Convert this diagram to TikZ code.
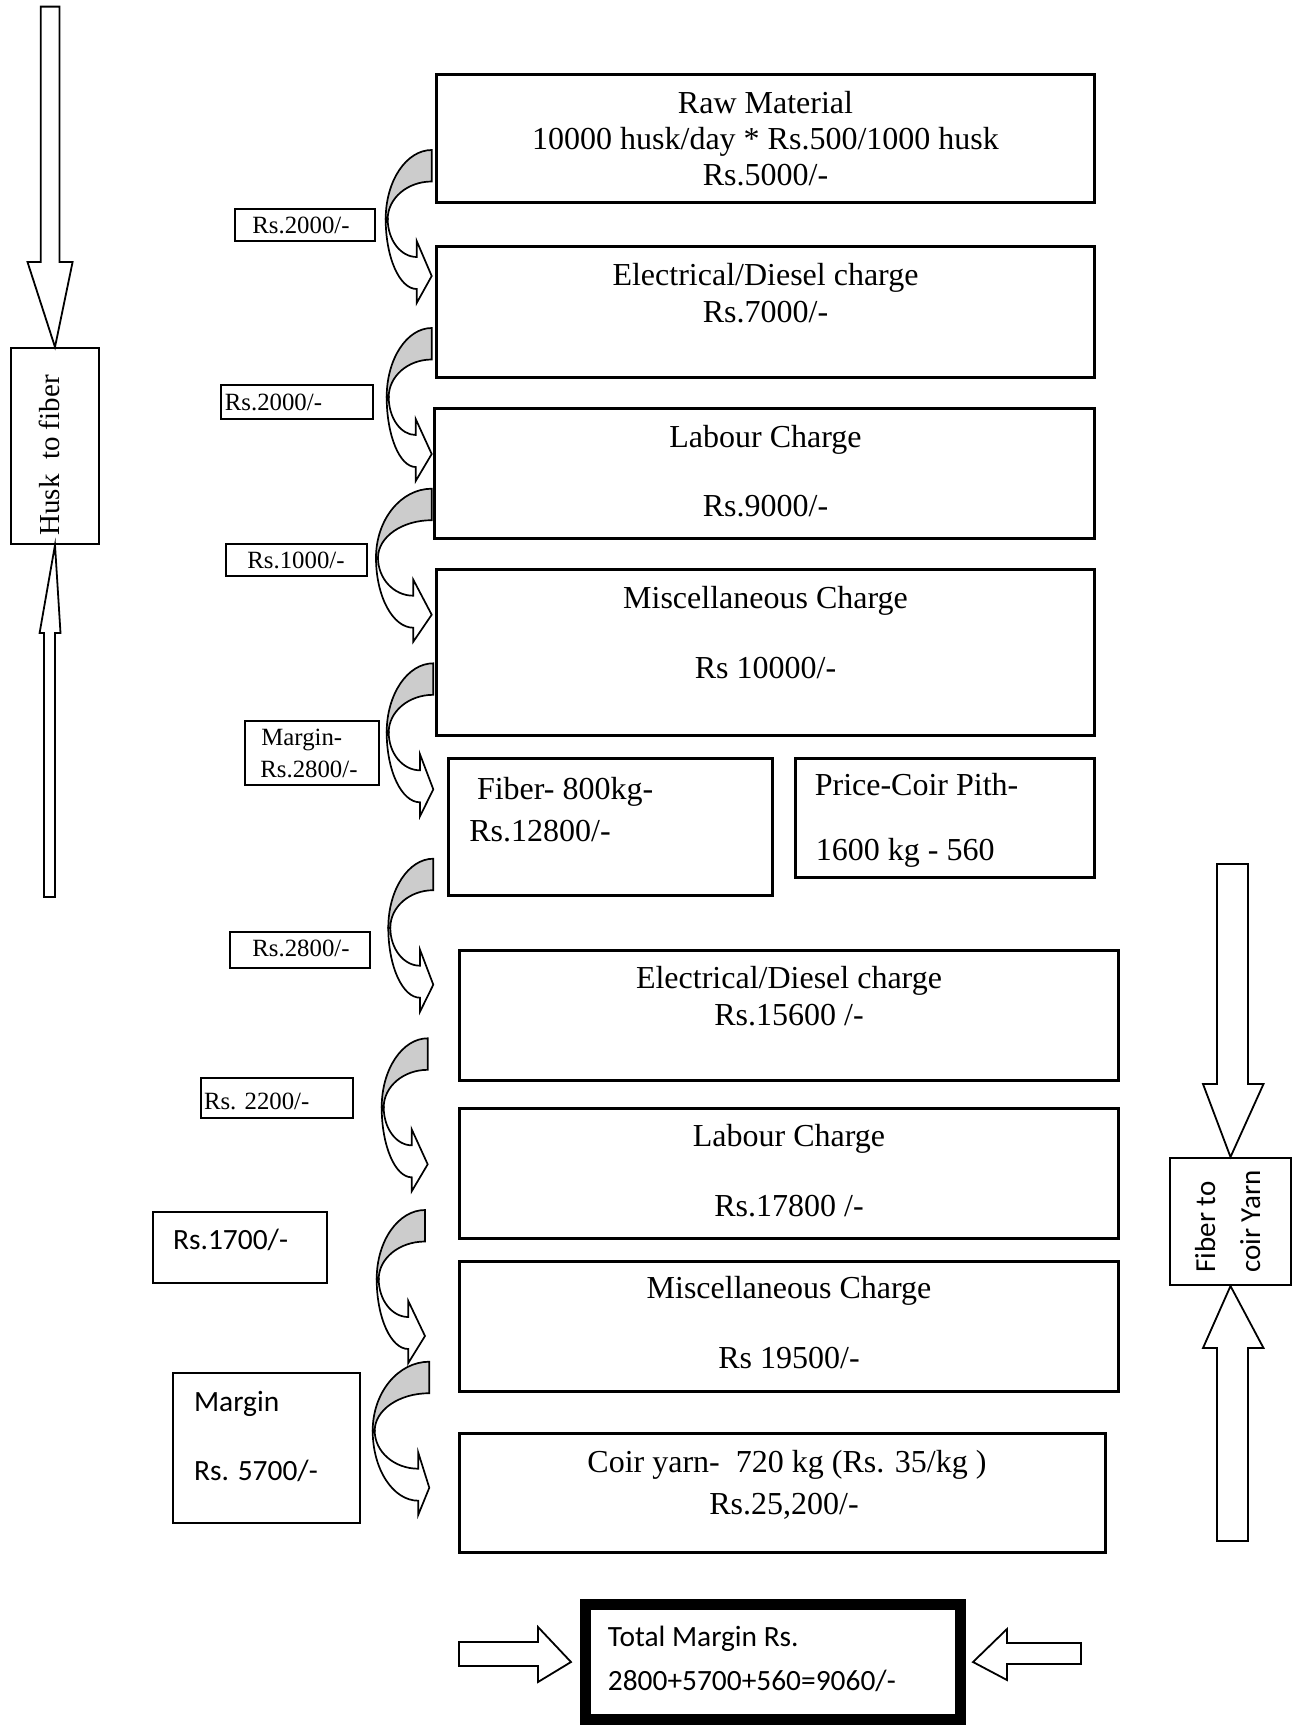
\documentclass[tikz,border=0pt]{standalone}
\usepackage{fontspec}
\setmainfont{Liberation Serif}
\newfontfamily\calfont{Carlito}
\tikzset{
  box/.style 2 args={draw, line width=1.4pt, rectangle, minimum width=#1*0.5pt-1.4pt, minimum height=#2*0.5pt-1.4pt, anchor=north west, inner sep=0pt},
  lbl/.style 2 args={draw, line width=0.9pt, rectangle, minimum width=#1*0.5pt-0.9pt, minimum height=#2*0.5pt-0.9pt, anchor=north west, inner sep=0pt},
  big/.style={font=\fontsize{16}{18}\selectfont, inner sep=0pt},
  sml/.style={font=\fontsize{12.4}{14}\selectfont, inner sep=0pt},
  cal/.style={font=\calfont\fontsize{14.7}{17}\selectfont, inner sep=0pt},
  arrline/.style={line width=0.85pt, line join=miter},
  fatarrow/.style={draw, line width=0.9pt, fill=white, line join=miter}
}
\newcommand\cvarrow[4]{%
\begin{scope}[shift={(#1,#2)}]
\pgfmathsetmacro\cW{#3}
\pgfmathsetmacro\cWi{#3-2}
\pgfmathsetmacro\chx{#4}
\def\ck{0.5523}
\filldraw[arrline, fill=white] (-\cW,69) .. controls (-\cW,69+\ck*70) and (-\chx-\ck*\cW+\ck*\chx,139) .. (-\chx,139) -- (-\chx,153) -- (0,126) -- (-\chx,91) -- (-\chx,107) .. controls (-\chx-\ck*\cWi+\ck*\chx,107) and (-\cWi,69+\ck*38) .. (-\cWi,69) -- cycle;
\filldraw[arrline, fill=gray!40] (0,0) .. controls (-\ck*\cW,0) and (-\cW,69-\ck*69) .. (-\cW,69) -- (-\cWi,69) .. controls (-\cWi,69-\ck*37.5) and (-\ck*\cWi,31.5) .. (0,31.5) -- cycle;
\end{scope}}
\begin{document}
\begin{tikzpicture}[x=0.5pt,y=-0.5pt]
\useasboundingbox (0,0) rectangle (1302,1726);
% main boxes
\node[box={661}{131}] (b1) at (435,73) {};
\node[box={661}{134}] (b2) at (435,245) {};
\node[box={663}{133}] (b3) at (433,407) {};
\node[box={661}{169}] (b4) at (435,568) {};
\node[box={327}{140}] (b5) at (447,757) {};
\node[box={302}{122}] (b6) at (794,757) {};
\node[box={662}{133}] (b7) at (458,949) {};
\node[box={662}{133}] (b8) at (458,1107) {};
\node[box={662}{133}] (b9) at (458,1260) {};
\node[box={649}{122}] (b10) at (458,1432) {};
\node[draw, line width=5.5pt, rectangle, anchor=north west, inner sep=0pt, minimum width=386*0.5pt-5.5pt, minimum height=126*0.5pt-5.5pt] (tm) at (580,1599) {};
% main texts
\node[big, anchor=base] (t1a) at (765.5,113) {Raw Material};
\node[big, anchor=base] (t1b) at (765.5,149) {10000 husk/day * Rs.500/1000 husk};
\node[big, anchor=base] (t1c) at (765.5,185) {Rs.5000/-};
\node[big, anchor=base] (t2a) at (765.5,285) {Electrical/Diesel charge};
\node[big, anchor=base] (t2b) at (765.5,322.5) {Rs.7000/-};
\node[big, anchor=base] (t3a) at (765.5,447) {Labour Charge};
\node[big, anchor=base] (t3b) at (765.5,516) {Rs.9000/-};
\node[big, anchor=base] (t4a) at (765.5,608.6) {Miscellaneous Charge};
\node[big, anchor=base] (t4b) at (765.5,678) {Rs 10000/-};
\node[big, anchor=base west] (t5a) at (476.6,799) {Fiber- 800kg-};
\node[big, anchor=base west] (t5b) at (469,841) {Rs.12800/-};
\node[big, anchor=base west] (t6a) at (814.4,795.7) {Price-Coir Pith-};
\node[big, anchor=base west] (t6b) at (815.5,860.7) {1600 kg - 560};
\node[big, anchor=base] (t7a) at (789,988) {Electrical/Diesel charge};
\node[big, anchor=base] (t7b) at (789,1025.8) {Rs.15600 /-};
\node[big, anchor=base] (t8a) at (789,1146.8) {Labour Charge};
\node[big, anchor=base] (t8b) at (789,1216) {Rs.17800 /-};
\node[big, anchor=base] (t9a) at (789,1298.7) {Miscellaneous Charge};
\node[big, anchor=base] (t9b) at (789,1368) {Rs 19500/-};
\node[big, anchor=base] (t10a) at (787,1472.6) {Coir yarn-\ \ 720 kg (Rs. 35/kg )};
\node[big, anchor=base] (t10b) at (784,1514.5) {Rs.25,200/-};
\node[cal, anchor=base west] (tma) at (607.5,1646.5) {Total Margin Rs.};
\node[cal, anchor=base west] (tmb) at (607.5,1690.5) {2800+5700+560=9060/-};
% label boxes
\node[lbl={142}{34}] (l1) at (234,208) {};
\node[sml, anchor=base] (l1t) at (301,233) {Rs.2000/-};
\node[lbl={154}{36}] (l2) at (220,384) {};
\node[sml, anchor=base west] (l2t) at (224.5,410.5) {Rs.2000/-};
\node[lbl={143}{34}] (l3) at (225,543) {};
\node[sml, anchor=base] (l3t) at (296,568) {Rs.1000/-};
\node[lbl={136}{66}] (l4) at (244,720) {};
\node[sml, anchor=base west] (l4a) at (261,745) {Margin-};
\node[sml, anchor=base west] (l4b) at (260,777) {Rs.2800/-};
\node[lbl={142}{38}] (l5) at (229,931) {};
\node[sml, anchor=base] (l5t) at (301,956) {Rs.2800/-};
\node[lbl={154}{42}] (l6) at (200,1077) {};
\node[sml, anchor=base west] (l6t) at (203.6,1109) {Rs. 2200/-};
\node[lbl={176}{73}] (l7) at (152,1211) {};
\node[cal, anchor=base west] (l7t) at (172.8,1249) {Rs.1700/-};
\node[lbl={189}{152}] (l8) at (172,1372) {};
\node[cal, anchor=base west] (l8a) at (193.7,1411) {Margin};
\node[cal, anchor=base west] (l8b) at (193.7,1480) {Rs. 5700/-};
% curved arrows
\cvarrow{431.7}{150}{46}{15}
\cvarrow{431.7}{328}{45}{16}
\cvarrow{431.7}{488.7}{55.7}{18.4}
\cvarrow{433.3}{663.3}{46.6}{13.3}
\cvarrow{433.3}{858.7}{45}{13.3}
\cvarrow{427.7}{1038.3}{46}{16}
\cvarrow{425}{1210}{48.3}{16.7}
\cvarrow{429.3}{1361.7}{56.6}{11}
% left side
\node[lbl={90}{198}] (hf) at (10,347) {};
\node[font=\fontsize{14.5}{16}\selectfont, inner sep=0pt, rotate=90, anchor=base west] (hft) at (60,536) {Husk\ \ to fiber};
\path[fatarrow] (40.7,6.6) -- (59.4,6.6) -- (59.4,262) -- (72.6,262) -- (hf.north) -- (27.5,262) -- (40.7,262) -- cycle;
\path[fatarrow] (44,897) -- (55,897) -- (55,633) -- (60.5,633) -- (hf.south) -- (39.6,633) -- (44,633) -- cycle;
% right side
\node[lbl={123}{129}] (fy) at (1169,1157) {};
\node[font=\calfont\fontsize{14.5}{16}\selectfont, inner sep=0pt, rotate=90, anchor=base west] (fya) at (1215,1273) {Fiber to};
\node[font=\calfont\fontsize{14.5}{16}\selectfont, inner sep=0pt, rotate=90, anchor=base west] (fyb) at (1260,1273) {coir Yarn};
\path[fatarrow] (1217,864) -- (1248,864) -- (1248,1084) -- (1263.5,1084) -- (fy.north) -- (1203,1084) -- (1217,1084) -- cycle;
\path[fatarrow] (1217,1541) -- (1248,1541) -- (1248,1348) -- (1263.5,1348) -- (fy.south) -- (1203,1348) -- (1217,1348) -- cycle;
% bottom arrows
\path[fatarrow] (459,1642) -- (538,1642) -- (538,1627) -- ([xshift=-4.5pt]tm.west) -- (538,1682) -- (538,1666) -- (459,1666) -- cycle;
\path[fatarrow] (1081,1643) -- (1007,1643) -- (1007,1629) -- ([xshift=3.5pt]tm.east) -- (1007,1680) -- (1007,1664) -- (1081,1664) -- cycle;
\end{tikzpicture}
\end{document}
